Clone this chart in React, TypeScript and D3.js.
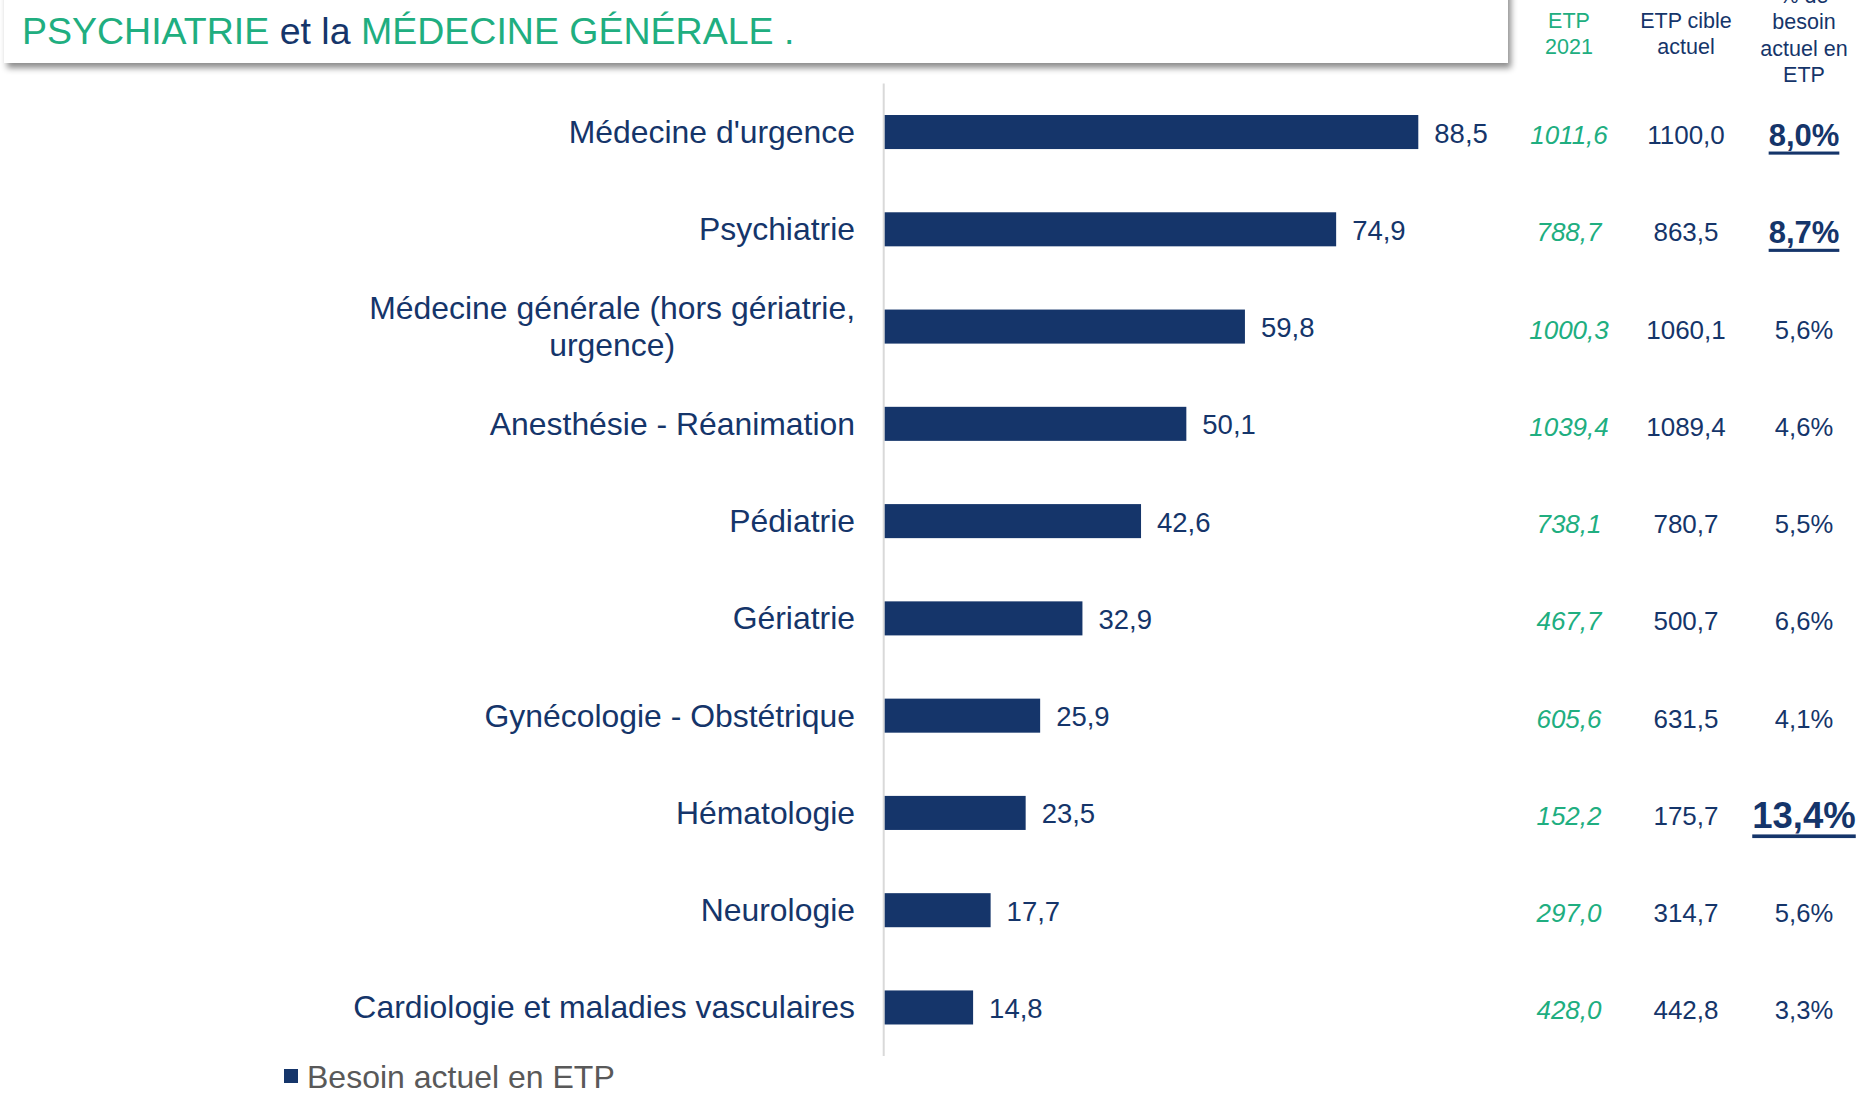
import { useEffect, useRef } from "react";
import { select, scaleBand, scaleLinear, max, formatLocale } from "d3";

const categories = [
  "Médecine d'urgence",
  "Psychiatrie",
  "Médecine générale (hors gériatrie, urgence)",
  "Anesthésie - Réanimation",
  "Pédiatrie",
  "Gériatrie",
  "Gynécologie - Obstétrique",
  "Hématologie",
  "Neurologie",
  "Cardiologie et maladies vasculaires",
];
const besoinEtp = [88.5, 74.9, 59.8, 50.1, 42.6, 32.9, 25.9, 23.5, 17.7, 14.8];
const etp2021 = [1011.6, 788.7, 1000.3, 1039.4, 738.1, 467.7, 605.6, 152.2, 297.0, 428.0];
const etpCible = [1100.0, 863.5, 1060.1, 1089.4, 780.7, 500.7, 631.5, 175.7, 314.7, 442.8];
const pctBesoin = [8.0, 8.7, 5.6, 4.6, 5.5, 6.6, 4.1, 13.4, 5.6, 3.3];
const highlighted = ["Médecine d'urgence", "Psychiatrie", "Hématologie"];
const tableHeaders = [
  ["ETP", "2021"],
  ["ETP cible", "actuel"],
  ["% de", "besoin", "actuel en", "ETP"],
];
const titleParts = [
  { text: "PSYCHIATRIE", green: true },
  { text: "et la", green: false },
  { text: "MÉDECINE GÉNÉRALE .", green: true },
];
const legendLabel = "Besoin actuel en ETP";

const NAVY = "#15356a";
const GREEN = "#20ae80";
const FONT = "'Liberation Sans', Arial, sans-serif";
const W = 1865;
const H = 1095;

const fr = formatLocale({ decimal: ",", thousands: " ", grouping: [3], currency: ["", " €"] });
const f1 = fr.format(".1f");

const App = () => {
  const svgRef = useRef<SVGSVGElement>(null);

  useEffect(() => {
    const svgEl = select(svgRef.current);
    svgEl.selectAll("*").remove();

    const plot = { left: 883.7, top: 83.4, bottom: 1056.1 };

    const yScale = scaleBand<string>()
      .domain(categories)
      .range([plot.top, plot.bottom])
      .paddingInner(0.65)
      .paddingOuter(0.325);
    const xScale = scaleLinear()
      .domain([0, max(besoinEtp) as number])
      .range([plot.left, plot.left + 534.6]);

    // title box with shadow
    const defs = svgEl.append("defs");
    const filt = defs.append("filter").attr("id", "shadow").attr("x", "-5%").attr("y", "-50%")
      .attr("width", "110%").attr("height", "200%");
    filt.append("feDropShadow").attr("dx", 3).attr("dy", 5).attr("stdDeviation", 3)
      .attr("flood-color", "#000").attr("flood-opacity", 0.45);

    svgEl.append("rect")
      .attr("x", 4).attr("y", -20).attr("width", 1504).attr("height", 83)
      .attr("fill", "#fff").attr("filter", "url(#shadow)");

    // title: separate pieces placed one after another
    let tx = 22;
    titleParts.forEach((p) => {
      const t = svgEl.append("text")
        .attr("x", tx).attr("y", 44)
        .attr("font-family", FONT).attr("font-size", 37.5)
        .attr("fill", p.green ? GREEN : NAVY)
        .text(p.text);
      tx += (t.node() as SVGTextElement).getComputedTextLength() + 10.4;
    });

    // axis line
    svgEl.append("line")
      .attr("x1", plot.left).attr("x2", plot.left)
      .attr("y1", plot.top).attr("y2", plot.bottom)
      .attr("stroke", "#d9d9d9").attr("stroke-width", 2);

    // bars
    svgEl.selectAll(".bar")
      .data(categories)
      .enter()
      .append("rect")
      .attr("x", plot.left + 1)
      .attr("y", (d) => yScale(d) as number)
      .attr("width", (d, i) => xScale(besoinEtp[i]) - plot.left - 1)
      .attr("height", yScale.bandwidth())
      .attr("fill", NAVY);

    const mid = (d: string) => (yScale(d) as number) + yScale.bandwidth() / 2;

    // value labels
    svgEl.selectAll(".val")
      .data(categories)
      .enter()
      .append("text")
      .attr("x", (d, i) => xScale(besoinEtp[i]) + 16)
      .attr("y", (d) => mid(d) + 1)
      .attr("dominant-baseline", "central")
      .attr("font-family", FONT).attr("font-size", 27.5)
      .attr("fill", NAVY)
      .text((d, i) => f1(besoinEtp[i]));

    // category labels, wrapped and centered within a right-aligned block
    const labelRight = 855;
    const labelSize = 31.9;
    const maxW = 540;
    const lineH = 37;
    categories.forEach((c) => {
      const g = svgEl.append("g");
      const words = c.split(" ");
      const lines: string[] = [];
      let cur = "";
      const probe = g.append("text").attr("font-family", FONT).attr("font-size", labelSize);
      words.forEach((w) => {
        const test = cur ? cur + " " + w : w;
        probe.text(test);
        if ((probe.node() as SVGTextElement).getComputedTextLength() > maxW && cur) {
          lines.push(cur);
          cur = w;
        } else {
          cur = test;
        }
      });
      lines.push(cur);
      let widest = 0;
      lines.forEach((l) => {
        probe.text(l);
        widest = Math.max(widest, (probe.node() as SVGTextElement).getComputedTextLength());
      });
      probe.remove();
      const cx = labelRight - widest / 2;
      const y0 = mid(c) - ((lines.length - 1) * lineH) / 2;
      lines.forEach((l, k) => {
        g.append("text")
          .attr("x", cx).attr("y", y0 + k * lineH)
          .attr("text-anchor", "middle")
          .attr("dominant-baseline", "central")
          .attr("font-family", FONT).attr("font-size", labelSize)
          .attr("fill", NAVY)
          .text(l);
      });
    });

    // table headers
    const colX = [1569, 1686, 1804];
    const headStart = [21, 21, -4];
    const headStep = 26.3;
    tableHeaders.forEach((lines, ci) => {
      lines.forEach((l, k) => {
        svgEl.append("text")
          .attr("x", colX[ci]).attr("y", headStart[ci] + k * headStep)
          .attr("text-anchor", "middle").attr("dominant-baseline", "central")
          .attr("font-family", FONT).attr("font-size", 21.5)
          .attr("fill", ci === 0 ? GREEN : NAVY)
          .text(l);
      });
    });

    // table values
    const rowY = (d: string) => mid(d) + 3;
    svgEl.selectAll(".etp2021")
      .data(categories)
      .enter()
      .append("text")
      .attr("x", colX[0]).attr("y", rowY)
      .attr("text-anchor", "middle").attr("dominant-baseline", "central")
      .attr("font-family", FONT).attr("font-size", 26).attr("font-style", "italic")
      .attr("fill", GREEN)
      .text((d, i) => f1(etp2021[i]));

    svgEl.selectAll(".cible")
      .data(categories)
      .enter()
      .append("text")
      .attr("x", colX[1]).attr("y", rowY)
      .attr("text-anchor", "middle").attr("dominant-baseline", "central")
      .attr("font-family", FONT).attr("font-size", 26)
      .attr("fill", NAVY)
      .text((d, i) => f1(etpCible[i]));

    svgEl.selectAll(".pct")
      .data(categories)
      .enter()
      .append("text")
      .attr("x", colX[2]).attr("y", rowY)
      .attr("text-anchor", "middle").attr("dominant-baseline", "central")
      .attr("font-family", FONT)
      .attr("font-size", (d, i) => (highlighted.includes(d) ? (pctBesoin[i] > 10 ? 36.5 : 31) : 25.6))
      .attr("font-weight", (d) => (highlighted.includes(d) ? "bold" : "normal"))
      .attr("text-decoration", (d) => (highlighted.includes(d) ? "underline" : "none"))
      .attr("fill", NAVY)
      .text((d, i) => f1(pctBesoin[i]) + "%");

    // legend
    svgEl.append("rect")
      .attr("x", 284).attr("y", 1069).attr("width", 14).attr("height", 14)
      .attr("fill", NAVY);
    svgEl.append("text")
      .attr("x", 307).attr("y", 1077)
      .attr("dominant-baseline", "central")
      .attr("font-family", FONT).attr("font-size", 32)
      .attr("fill", "#595959")
      .text(legendLabel);
  }, []);

  return (
    <svg
      ref={svgRef}
      width={W}
      height={H}
      viewBox={`0 0 ${W} ${H}`}
      style={{ position: "absolute", left: 0, top: 0, background: "#fff" }}
    ></svg>
  );
};

export default App;
